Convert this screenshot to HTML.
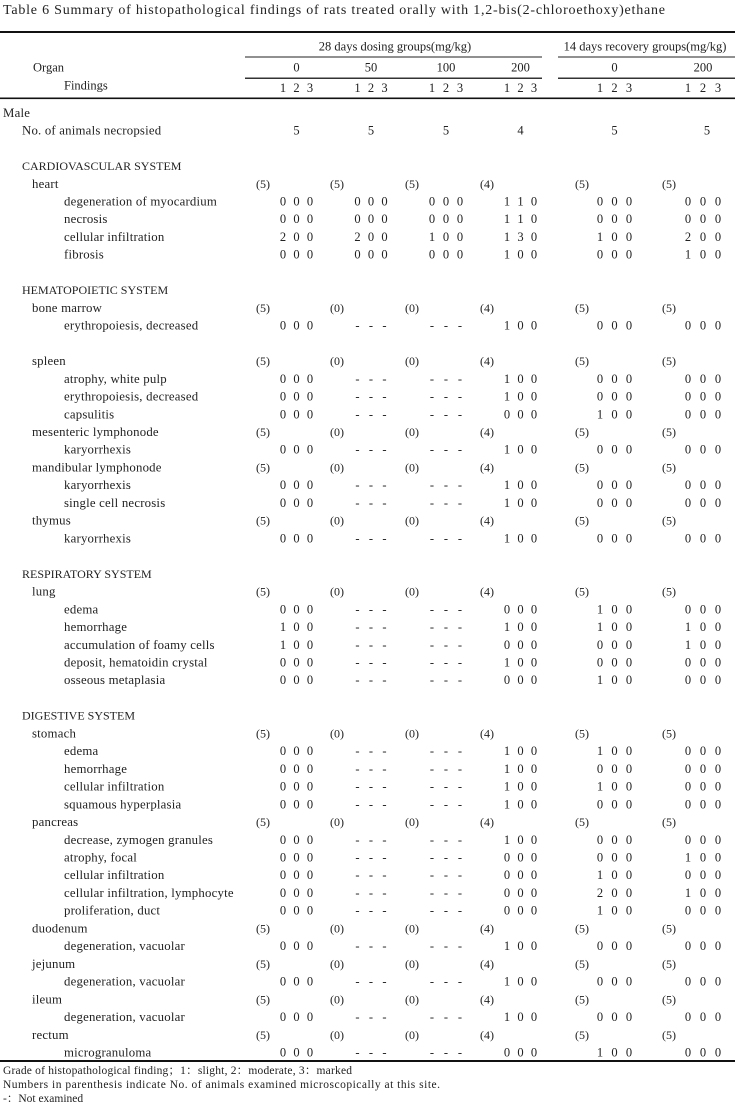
<!DOCTYPE html>
<html><head><meta charset="utf-8"><style>
html,body{margin:0;padding:0;background:#fff;}
svg{display:block;}
text{font-family:"Liberation Serif","Noto Serif CJK SC",serif;fill:#222;}
.t{font-size:14px;}
.h{font-size:12.5px;}
.c{font-size:12px;}
.l{font-size:12.8px;letter-spacing:0.2px;}
.d{font-size:12.5px;text-anchor:middle;}
.n{font-size:12px;}
.f{font-size:11.5px;}
</style></head><body>
<svg width="735" height="1108" viewBox="0 0 735 1108" xmlns="http://www.w3.org/2000/svg">
<text class="t" x="3" y="14" textLength="662" lengthAdjust="spacing">Table 6  Summary of histopathological findings of rats treated orally with 1,2-bis(2-chloroethoxy)ethane</text>
<rect x="0" y="31" width="735" height="2" fill="#111"/>
<text class="h" x="395" y="50.5" text-anchor="middle">28 days dosing groups(mg/kg)</text>
<text class="h" x="645" y="50.5" text-anchor="middle">14 days recovery groups(mg/kg)</text>
<rect x="245" y="56.5" width="297" height="1" fill="#222"/>
<rect x="558" y="56.5" width="177" height="1" fill="#222"/>
<text class="h" x="33" y="71.5">Organ</text>
<text class="d" x="296.5" y="71.5">0</text>
<text class="d" x="371" y="71.5">50</text>
<text class="d" x="446" y="71.5">100</text>
<text class="d" x="520.5" y="71.5">200</text>
<text class="d" x="614.5" y="71.5">0</text>
<text class="d" x="703" y="71.5">200</text>
<rect x="245" y="77.5" width="297" height="1.5" fill="#333"/>
<rect x="558" y="77.5" width="177" height="1.5" fill="#333"/>
<text class="h" x="64" y="89.5">Findings</text>
<text class="d" x="283 296.5 310 357.5 371 384.5 432 446 460 507 520.5 534 600 614.5 629 688 703 718" y="92">123123123123123123</text>
<rect x="0" y="97.5" width="735" height="1.6" fill="#111"/>

<text class="l" x="3" y="116.8">Male</text>
<text class="l" x="22" y="134.6">No. of animals necropsied</text>
<text class="d" x="296.5 371 446 520.5 614.5 707" y="134.6">555455</text>

<g class="c">
<text class="c" x="22" y="170">CARDIOVASCULAR SYSTEM</text>
<text class="c" x="22" y="294.2">HEMATOPOIETIC SYSTEM</text>
<text class="c" x="22" y="577.8">RESPIRATORY SYSTEM</text>
<text class="c" x="22" y="719.7">DIGESTIVE SYSTEM</text>
</g>

<g class="l">
<text class="l" x="32" y="187.8">heart</text>
<text class="l" x="32" y="311.9">bone marrow</text>
<text class="l" x="32" y="365.1">spleen</text>
<text class="l" x="32" y="436">mesenteric lymphonode</text>
<text class="l" x="32" y="471.5">mandibular lymphonode</text>
<text class="l" x="32" y="524.6">thymus</text>
<text class="l" x="32" y="595.6">lung</text>
<text class="l" x="32" y="737.4">stomach</text>
<text class="l" x="32" y="826.1">pancreas</text>
<text class="l" x="32" y="932.4">duodenum</text>
<text class="l" x="32" y="967.9">jejunum</text>
<text class="l" x="32" y="1003.4">ileum</text>
<text class="l" x="32" y="1038.8">rectum</text>
</g>

<text class="n" x="256" y="187.8">(5)</text><text class="n" x="330" y="187.8">(5)</text><text class="n" x="405" y="187.8">(5)</text><text class="n" x="480" y="187.8">(4)</text><text class="n" x="575" y="187.8">(5)</text><text class="n" x="662" y="187.8">(5)</text>
<text class="n" x="256" y="311.9">(5)</text><text class="n" x="330" y="311.9">(0)</text><text class="n" x="405" y="311.9">(0)</text><text class="n" x="480" y="311.9">(4)</text><text class="n" x="575" y="311.9">(5)</text><text class="n" x="662" y="311.9">(5)</text>
<text class="n" x="256" y="365.1">(5)</text><text class="n" x="330" y="365.1">(0)</text><text class="n" x="405" y="365.1">(0)</text><text class="n" x="480" y="365.1">(4)</text><text class="n" x="575" y="365.1">(5)</text><text class="n" x="662" y="365.1">(5)</text>
<text class="n" x="256" y="436">(5)</text><text class="n" x="330" y="436">(0)</text><text class="n" x="405" y="436">(0)</text><text class="n" x="480" y="436">(4)</text><text class="n" x="575" y="436">(5)</text><text class="n" x="662" y="436">(5)</text>
<text class="n" x="256" y="471.5">(5)</text><text class="n" x="330" y="471.5">(0)</text><text class="n" x="405" y="471.5">(0)</text><text class="n" x="480" y="471.5">(4)</text><text class="n" x="575" y="471.5">(5)</text><text class="n" x="662" y="471.5">(5)</text>
<text class="n" x="256" y="524.6">(5)</text><text class="n" x="330" y="524.6">(0)</text><text class="n" x="405" y="524.6">(0)</text><text class="n" x="480" y="524.6">(4)</text><text class="n" x="575" y="524.6">(5)</text><text class="n" x="662" y="524.6">(5)</text>
<text class="n" x="256" y="595.6">(5)</text><text class="n" x="330" y="595.6">(0)</text><text class="n" x="405" y="595.6">(0)</text><text class="n" x="480" y="595.6">(4)</text><text class="n" x="575" y="595.6">(5)</text><text class="n" x="662" y="595.6">(5)</text>
<text class="n" x="256" y="737.4">(5)</text><text class="n" x="330" y="737.4">(0)</text><text class="n" x="405" y="737.4">(0)</text><text class="n" x="480" y="737.4">(4)</text><text class="n" x="575" y="737.4">(5)</text><text class="n" x="662" y="737.4">(5)</text>
<text class="n" x="256" y="826.1">(5)</text><text class="n" x="330" y="826.1">(0)</text><text class="n" x="405" y="826.1">(0)</text><text class="n" x="480" y="826.1">(4)</text><text class="n" x="575" y="826.1">(5)</text><text class="n" x="662" y="826.1">(5)</text>
<text class="n" x="256" y="932.4">(5)</text><text class="n" x="330" y="932.4">(0)</text><text class="n" x="405" y="932.4">(0)</text><text class="n" x="480" y="932.4">(4)</text><text class="n" x="575" y="932.4">(5)</text><text class="n" x="662" y="932.4">(5)</text>
<text class="n" x="256" y="967.9">(5)</text><text class="n" x="330" y="967.9">(0)</text><text class="n" x="405" y="967.9">(0)</text><text class="n" x="480" y="967.9">(4)</text><text class="n" x="575" y="967.9">(5)</text><text class="n" x="662" y="967.9">(5)</text>
<text class="n" x="256" y="1003.4">(5)</text><text class="n" x="330" y="1003.4">(0)</text><text class="n" x="405" y="1003.4">(0)</text><text class="n" x="480" y="1003.4">(4)</text><text class="n" x="575" y="1003.4">(5)</text><text class="n" x="662" y="1003.4">(5)</text>
<text class="n" x="256" y="1038.8">(5)</text><text class="n" x="330" y="1038.8">(0)</text><text class="n" x="405" y="1038.8">(0)</text><text class="n" x="480" y="1038.8">(4)</text><text class="n" x="575" y="1038.8">(5)</text><text class="n" x="662" y="1038.8">(5)</text>

<text class="l" x="64" y="205.5">degeneration of myocardium</text>
<text class="l" x="64" y="223.2">necrosis</text>
<text class="l" x="64" y="241">cellular infiltration</text>
<text class="l" x="64" y="258.7">fibrosis</text>
<text class="l" x="64" y="329.6">erythropoiesis, decreased</text>
<text class="l" x="64" y="382.8">atrophy, white pulp</text>
<text class="l" x="64" y="400.5">erythropoiesis, decreased</text>
<text class="l" x="64" y="418.3">capsulitis</text>
<text class="l" x="64" y="453.7">karyorrhexis</text>
<text class="l" x="64" y="489.2">karyorrhexis</text>
<text class="l" x="64" y="506.9">single cell necrosis</text>
<text class="l" x="64" y="542.4">karyorrhexis</text>
<text class="l" x="64" y="613.3">edema</text>
<text class="l" x="64" y="631">hemorrhage</text>
<text class="l" x="64" y="648.8">accumulation of foamy cells</text>
<text class="l" x="64" y="666.5">deposit, hematoidin crystal</text>
<text class="l" x="64" y="684.2">osseous metaplasia</text>
<text class="l" x="64" y="755.1">edema</text>
<text class="l" x="64" y="772.9">hemorrhage</text>
<text class="l" x="64" y="790.6">cellular infiltration</text>
<text class="l" x="64" y="808.3">squamous hyperplasia</text>
<text class="l" x="64" y="843.8">decrease, zymogen granules</text>
<text class="l" x="64" y="861.5">atrophy, focal</text>
<text class="l" x="64" y="879.2">cellular infiltration</text>
<text class="l" x="64" y="897">cellular infiltration, lymphocyte</text>
<text class="l" x="64" y="914.7">proliferation, duct</text>
<text class="l" x="64" y="950.2">degeneration, vacuolar</text>
<text class="l" x="64" y="985.6">degeneration, vacuolar</text>
<text class="l" x="64" y="1021.1">degeneration, vacuolar</text>
<text class="l" x="64" y="1056.5">microgranuloma</text>

<g>
<text class="d" x="283 296.5 310 357.5 371 384.5 432 446 460 507 520.5 534 600 614.5 629 688 703 718" y="205.5">000000000110000000</text>
<text class="d" x="283 296.5 310 357.5 371 384.5 432 446 460 507 520.5 534 600 614.5 629 688 703 718" y="223.2">000000000110000000</text>
<text class="d" x="283 296.5 310 357.5 371 384.5 432 446 460 507 520.5 534 600 614.5 629 688 703 718" y="241">200200100130100200</text>
<text class="d" x="283 296.5 310 357.5 371 384.5 432 446 460 507 520.5 534 600 614.5 629 688 703 718" y="258.7">000000000100000100</text>
<text class="d" x="283 296.5 310 357.5 371 384.5 432 446 460 507 520.5 534 600 614.5 629 688 703 718" y="329.6">000------100000000</text>
<text class="d" x="283 296.5 310 357.5 371 384.5 432 446 460 507 520.5 534 600 614.5 629 688 703 718" y="382.8">000------100000000</text>
<text class="d" x="283 296.5 310 357.5 371 384.5 432 446 460 507 520.5 534 600 614.5 629 688 703 718" y="400.5">000------100000000</text>
<text class="d" x="283 296.5 310 357.5 371 384.5 432 446 460 507 520.5 534 600 614.5 629 688 703 718" y="418.3">000------000100000</text>
<text class="d" x="283 296.5 310 357.5 371 384.5 432 446 460 507 520.5 534 600 614.5 629 688 703 718" y="453.7">000------100000000</text>
<text class="d" x="283 296.5 310 357.5 371 384.5 432 446 460 507 520.5 534 600 614.5 629 688 703 718" y="489.2">000------100000000</text>
<text class="d" x="283 296.5 310 357.5 371 384.5 432 446 460 507 520.5 534 600 614.5 629 688 703 718" y="506.9">000------100000000</text>
<text class="d" x="283 296.5 310 357.5 371 384.5 432 446 460 507 520.5 534 600 614.5 629 688 703 718" y="542.4">000------100000000</text>
<text class="d" x="283 296.5 310 357.5 371 384.5 432 446 460 507 520.5 534 600 614.5 629 688 703 718" y="613.3">000------000100000</text>
<text class="d" x="283 296.5 310 357.5 371 384.5 432 446 460 507 520.5 534 600 614.5 629 688 703 718" y="631">100------100100100</text>
<text class="d" x="283 296.5 310 357.5 371 384.5 432 446 460 507 520.5 534 600 614.5 629 688 703 718" y="648.8">100------000000100</text>
<text class="d" x="283 296.5 310 357.5 371 384.5 432 446 460 507 520.5 534 600 614.5 629 688 703 718" y="666.5">000------100000000</text>
<text class="d" x="283 296.5 310 357.5 371 384.5 432 446 460 507 520.5 534 600 614.5 629 688 703 718" y="684.2">000------000100000</text>
<text class="d" x="283 296.5 310 357.5 371 384.5 432 446 460 507 520.5 534 600 614.5 629 688 703 718" y="755.1">000------100100000</text>
<text class="d" x="283 296.5 310 357.5 371 384.5 432 446 460 507 520.5 534 600 614.5 629 688 703 718" y="772.9">000------100000000</text>
<text class="d" x="283 296.5 310 357.5 371 384.5 432 446 460 507 520.5 534 600 614.5 629 688 703 718" y="790.6">000------100100000</text>
<text class="d" x="283 296.5 310 357.5 371 384.5 432 446 460 507 520.5 534 600 614.5 629 688 703 718" y="808.3">000------100000000</text>
<text class="d" x="283 296.5 310 357.5 371 384.5 432 446 460 507 520.5 534 600 614.5 629 688 703 718" y="843.8">000------100000000</text>
<text class="d" x="283 296.5 310 357.5 371 384.5 432 446 460 507 520.5 534 600 614.5 629 688 703 718" y="861.5">000------000000100</text>
<text class="d" x="283 296.5 310 357.5 371 384.5 432 446 460 507 520.5 534 600 614.5 629 688 703 718" y="879.2">000------000100000</text>
<text class="d" x="283 296.5 310 357.5 371 384.5 432 446 460 507 520.5 534 600 614.5 629 688 703 718" y="897">000------000200100</text>
<text class="d" x="283 296.5 310 357.5 371 384.5 432 446 460 507 520.5 534 600 614.5 629 688 703 718" y="914.7">000------000100000</text>
<text class="d" x="283 296.5 310 357.5 371 384.5 432 446 460 507 520.5 534 600 614.5 629 688 703 718" y="950.2">000------100000000</text>
<text class="d" x="283 296.5 310 357.5 371 384.5 432 446 460 507 520.5 534 600 614.5 629 688 703 718" y="985.6">000------100000000</text>
<text class="d" x="283 296.5 310 357.5 371 384.5 432 446 460 507 520.5 534 600 614.5 629 688 703 718" y="1021.1">000------100000000</text>
<text class="d" x="283 296.5 310 357.5 371 384.5 432 446 460 507 520.5 534 600 614.5 629 688 703 718" y="1056.5">000------000100000</text>
</g>

<rect x="0" y="1060" width="735" height="2" fill="#111"/>
<text class="f" x="3" y="1074" textLength="349" lengthAdjust="spacing">Grade of histopathological finding；1：slight, 2：moderate, 3：marked</text>
<text class="f" x="3" y="1088" textLength="437" lengthAdjust="spacing">Numbers in parenthesis indicate No. of animals examined microscopically at this site.</text>
<text class="f" x="3" y="1102">-：Not examined</text>
</svg>
</body></html>
